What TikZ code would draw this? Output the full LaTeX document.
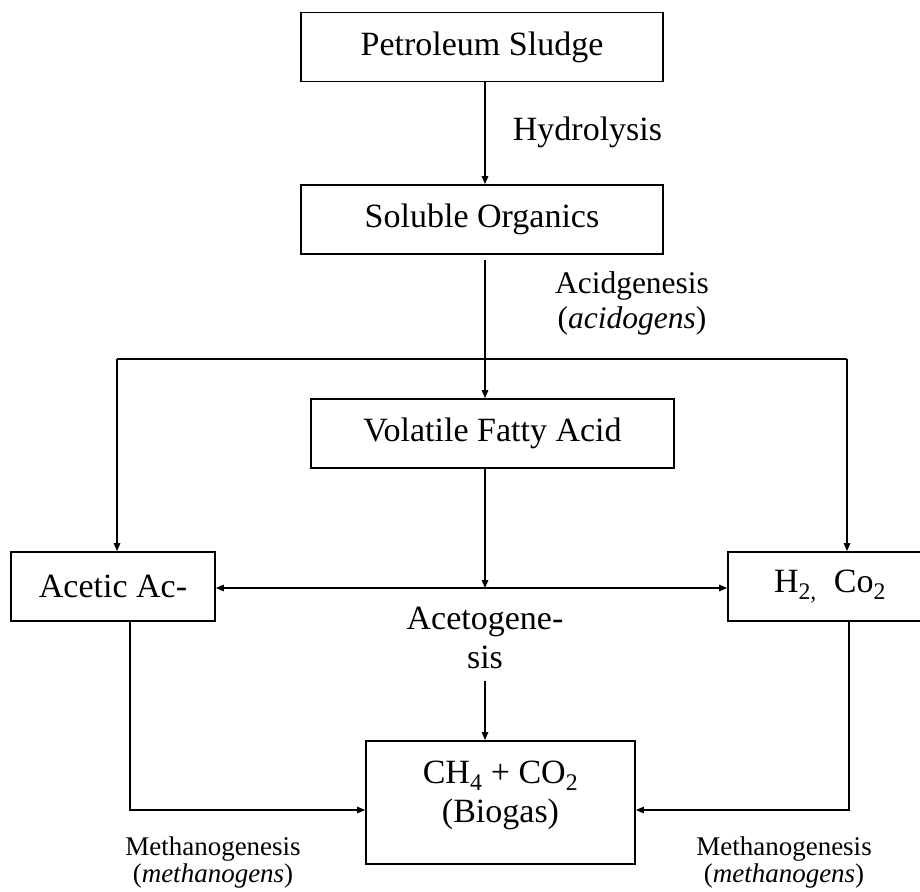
\documentclass[tikz,border=0pt]{standalone}
\usepackage{fontspec}
\setmainfont{Liberation Serif}
\usetikzlibrary{arrows.meta}

\tikzset{
  stage/.style={draw, line width=1.8pt, inner sep=0pt, minimum height=69pt, font=\fontsize{34}{39}\selectfont},
  note/.style={align=center, inner sep=0pt},
}

\begin{document}
\begin{tikzpicture}[x=1pt,y=-1pt, line width=1.4pt, >={Triangle[length=8pt,width=6.5pt]}]
  \useasboundingbox (0,0) rectangle (920,891);
  % stages
  \node[stage, minimum width=362pt] (sludge) at (482,47) {Petroleum Sludge};
  \node[stage, minimum width=362pt] (soluble) at (482,219.5) {Soluble Organics};
  \node[stage, minimum width=363pt] (vfa) at (492.5,433.5) {Volatile Fatty Acid};
  \node[stage, minimum width=204pt] (acetic) at (113,586.5) {Acetic Ac-};
  \node[stage, minimum width=204pt] (gases) at (830,586.5) {H\textsubscript{2,}\ \ Co\textsubscript{2}};
  \node[stage, minimum width=269pt, minimum height=123pt] (biogas) at (500.5,802.5) {};
  \node[note, font=\fontsize{34}{39}\selectfont] (biotext) at (500.5,795) {CH\textsubscript{4} + CO\textsubscript{2}\\(Biogas)};
  % process labels
  \node[note, font=\fontsize{34}{39}\selectfont] (hydro) at (587.5,132) {Hydrolysis};
  \node[note, font=\fontsize{31.5}{35}\selectfont] (acid) at (632,303) {Acidgenesis\\(\textit{acidogens})};
  \node[note, font=\fontsize{34}{39}\selectfont] (aceto) at (485,638) {Acetogene-\\sis};
  \node[note, font=\fontsize{27}{27}\selectfont] (methL) at (213,862) {Methanogenesis\\(\textit{methanogens})};
  \node[note, font=\fontsize{27}{27}\selectfont] (methR) at (784,862) {Methanogenesis\\(\textit{methanogens})};
  % branch points
  \coordinate (spine) at (485,0);
  \coordinate (acidtop) at (485,260);
  \coordinate (splitL) at (117,359);
  \coordinate (splitR) at (847,359);
  \coordinate (hub) at (485,588);
  \coordinate (dropL) at (130,810);
  \coordinate (dropR) at (849,810);
  % connectors
  \draw[->] (sludge.south -| spine) -- (soluble.north -| spine);
  \draw[->] (acidtop) -- (vfa.north -| acidtop);
  \draw (splitL) -- (splitR);
  \draw[->] (splitL) -- (acetic.north -| splitL);
  \draw[->] (splitR) -- (gases.north -| splitR);
  \draw[->] (vfa.south -| hub) -- (hub);
  \draw[<->] (acetic.east |- hub) -- (gases.west |- hub);
  \draw[->] ([yshift=-11pt]aceto.south) -- (biogas.north -| aceto.south);
  \draw[->] (acetic.south -| dropL) |- (biogas.west |- dropL);
  \draw[->] (gases.south -| dropR) |- (biogas.east |- dropR);
\end{tikzpicture}
\end{document}
